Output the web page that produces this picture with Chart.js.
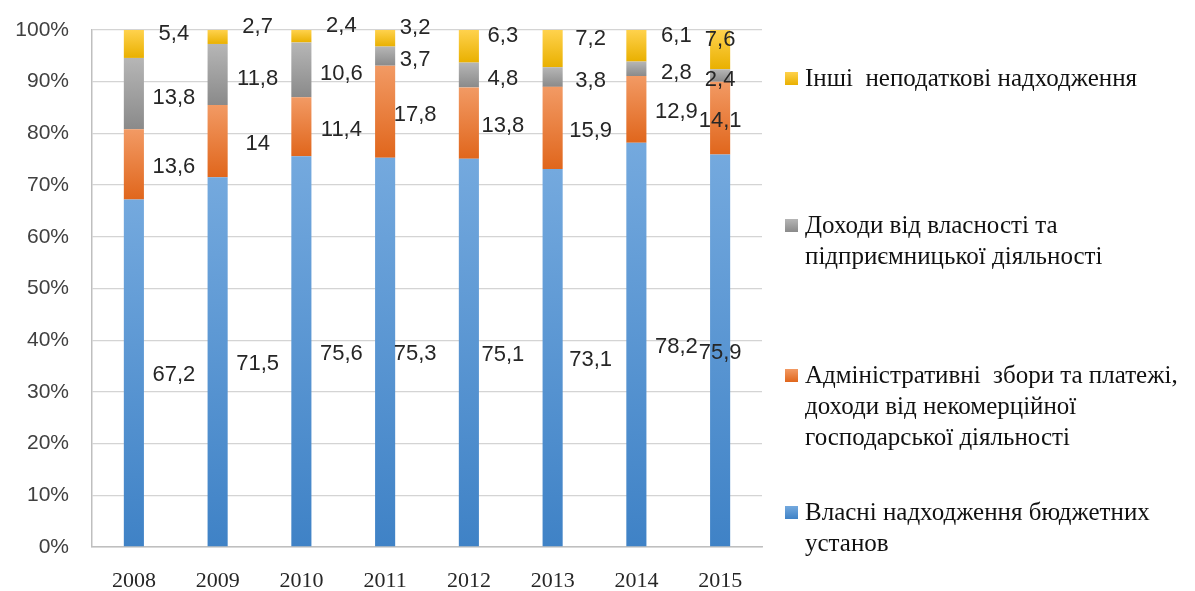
<!DOCTYPE html>
<html>
<head>
<meta charset="utf-8">
<script src="https://cdn.jsdelivr.net/npm/chart.js@4.4.1/dist/chart.umd.min.js"></script>
<style>
  html, body { margin: 0; padding: 0; background: #fff; }
  #wrap { width: 1195px; height: 591px; position: relative; }
</style>
</head>
<body>
<div id="wrap"><canvas id="chart"></canvas></div>
<script>
// ── Data ──────────────────────────────────────────────────────────────
const years   = ['2008', '2009', '2010', '2011', '2012', '2013', '2014', '2015'];
const own     = [67.2, 71.5, 75.6, 75.3, 75.1, 73.1, 78.2, 75.9];   // власні надходження
const admin   = [13.6, 14, 11.4, 17.8, 13.8, 15.9, 12.9, 14.1];     // адмін. збори
const prop    = [13.8, 11.8, 10.6, 3.7, 4.8, 3.8, 2.8, 2.4];        // доходи від власності
const other   = [5.4, 2.7, 2.4, 3.2, 6.3, 7.2, 6.1, 7.6];           // інші
const yTicks  = [0, 10, 20, 30, 40, 50, 60, 70, 80, 90, 100];

const seriesNames = [
    'Власні надходження бюджетних установ',
    'Адміністративні збори та платежі, доходи від некомерційної господарської діяльності',
    'Доходи від власності та підприємницької діяльності',
    'Інші неподаткові надходження'
];
const legendLines = [
    ['Власні надходження бюджетних', 'установ'],
    ['Адміністративні  збори та платежі,', 'доходи від некомерційної', 'господарської діяльності'],
    ['Доходи від власності та', 'підприємницької діяльності'],
    ['Інші  неподаткові надходження']
];

// ── Styles ────────────────────────────────────────────────────────────
const GRAD = [
    ['#74a9de', '#3f82c6'],   // синій
    ['#f29a64', '#e0661c'],   // помаранчевий
    ['#b6b6b6', '#8a8a8a'],   // сірий
    ['#ffd24d', '#e9b000']    // жовтий
];
const LABEL_DX = [40, 40, 40, 30, 34, 38, 40, 0];   // зсув підписів праворуч від стовпчика
const LABEL_DY = [2, 3, 4, -10];                     // підстроювання по серіях

// градієнт на кожному сегменті окремо
function segGradient(c, pair) {
    const chart = c.chart;
    if (!chart.chartArea || c.dataIndex === undefined) return pair[1];
    const y = chart.scales.y;
    let start = 0;
    for (let k = 0; k < c.datasetIndex; k++) start += chart.data.datasets[k].data[c.dataIndex];
    const end = start + chart.data.datasets[c.datasetIndex].data[c.dataIndex];
    const g = chart.ctx.createLinearGradient(0, y.getPixelForValue(end), 0, y.getPixelForValue(start));
    g.addColorStop(0, pair[0]);
    g.addColorStop(1, pair[1]);
    return g;
}

const fmt = v => String(v).replace('.', ',');

// ── Plugins ───────────────────────────────────────────────────────────
const valueLabels = {
    id: 'valueLabels',
    afterDatasetsDraw(chart) {
        const ctx = chart.ctx;
        const y = chart.scales.y;
        ctx.save();
        ctx.font = '22px "Liberation Sans", Arial, sans-serif';
        ctx.fillStyle = '#262626';
        ctx.textAlign = 'center';
        ctx.textBaseline = 'middle';
        chart.data.datasets.forEach((ds, d) => {
            const meta = chart.getDatasetMeta(d);
            meta.data.forEach((bar, i) => {
                let start = 0;
                for (let k = 0; k < d; k++) start += chart.data.datasets[k].data[i];
                const mid = start + ds.data[i] / 2;
                let py = y.getPixelForValue(mid) + LABEL_DY[d];
                py = Math.max(py, chart.chartArea.top - 5);
                ctx.fillText(fmt(ds.data[i]), bar.x + LABEL_DX[i], py);
            });
        });
        ctx.restore();
    }
};

const sideLegend = {
    id: 'sideLegend',
    afterDraw(chart) {
        const ctx = chart.ctx;
        const rows = [78, 225, 375, 512];   // перший рядок кожного запису
        const lineH = 31;
        ctx.save();
        ctx.font = '25px "Liberation Serif", "Times New Roman", serif';
        ctx.fillStyle = '#111';
        ctx.textBaseline = 'middle';
        ctx.textAlign = 'left';
        const order = [3, 2, 1, 0];
        order.forEach((d, r) => {
            const y0 = rows[r];
            const g = ctx.createLinearGradient(0, y0 - 6, 0, y0 + 7);
            g.addColorStop(0, GRAD[d][0]);
            g.addColorStop(1, GRAD[d][1]);
            ctx.fillStyle = g;
            ctx.fillRect(785, y0 - 6, 13, 13);
            ctx.fillStyle = '#111';
            legendLines[d].forEach((t, j) => ctx.fillText(t, 805, y0 + j * lineH + 1));
        });
        ctx.restore();
    }
};

// ── Chart ─────────────────────────────────────────────────────────────
const series = [own, admin, prop, other];
new Chart(document.getElementById('chart'), {
    type: 'bar',
    data: {
        labels: years,
        datasets: series.map((arr, d) => ({
            label: seriesNames[d],
            data: arr,
            backgroundColor: c => segGradient(c, GRAD[d]),
            borderWidth: 0,
            categoryPercentage: 1,
            barPercentage: 0.24
        }))
    },
    options: {
        responsive: true,
        maintainAspectRatio: false,
        animation: false,
        layout: { padding: { top: 30, right: 433, left: 0, bottom: 0 } },
        plugins: {
            legend: { display: false },
            tooltip: { enabled: false }
        },
        scales: {
            x: {
                stacked: true,
                grid: { display: false, drawTicks: false },
                border: { display: true, color: '#bfbfbf', width: 1.5 },
                ticks: {
                    font: { family: '"Liberation Serif", "Times New Roman", serif', size: 22 },
                    color: '#262626', padding: 21, maxRotation: 0
                },
                afterFit: s => { s.height = 44; s.paddingLeft = 0; s.paddingRight = 0; }
            },
            y: {
                stacked: true,
                min: 0, max: 100,
                afterBuildTicks: s => { s.ticks = yTicks.map(v => ({ value: v })); },
                grid: { color: '#d4d4d4', lineWidth: 1.3, drawTicks: false },
                border: { display: true, color: '#bfbfbf', width: 1.5 },
                ticks: {
                    callback: v => v + '%',
                    font: { family: '"Liberation Sans", Arial, sans-serif', size: 21 },
                    color: '#404040', padding: 23
                },
                afterFit: s => { s.width = 92; s.paddingTop = 0; s.paddingBottom = 0; }
            }
        }
    },
    plugins: [valueLabels, sideLegend]
});
</script>
</body>
</html>
